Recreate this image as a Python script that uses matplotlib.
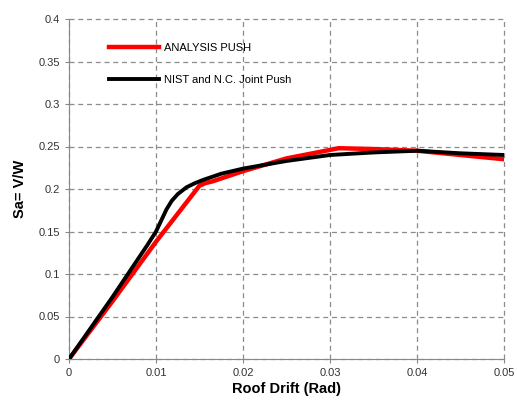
import matplotlib.pyplot as plt

plt.rcParams["font.family"] = ["Liberation Sans", "DejaVu Sans"]

# pushover curves
analysis_drift = [0.0, 0.005, 0.010, 0.0125, 0.015, 0.0157, 0.0165, 0.020, 0.025, 0.031, 0.035, 0.040, 0.045, 0.050]
analysis_sa = [0.0, 0.068, 0.138, 0.171, 0.204, 0.207, 0.209, 0.221, 0.236, 0.248, 0.247, 0.245, 0.240, 0.235]

nist_drift = [0.0, 0.005, 0.009, 0.010, 0.0106, 0.0112, 0.0118, 0.0125, 0.0135, 0.0145, 0.0155, 0.0175, 0.020,
              0.025, 0.030, 0.035, 0.040, 0.045, 0.050]
nist_sa = [0.0, 0.073, 0.134, 0.150, 0.163, 0.176, 0.186, 0.194, 0.202, 0.207, 0.211, 0.218, 0.224,
           0.233, 0.240, 0.243, 0.245, 0.242, 0.240]

x_ticks = [0, 0.01, 0.02, 0.03, 0.04, 0.05]
x_tick_labels = ["0", "0.01", "0.02", "0.03", "0.04", "0.05"]
y_ticks = [0, 0.05, 0.1, 0.15, 0.2, 0.25, 0.3, 0.35, 0.4]
y_tick_labels = ["0", "0.05", "0.1", "0.15", "0.2", "0.25", "0.3", "0.35", "0.4"]

fig = plt.figure(figsize=(5.17, 4.0), dpi=100)
ax = fig.add_axes([0.1335, 0.1025, 0.8415, 0.85])

ax.plot(analysis_drift, analysis_sa, color="#ff0000", lw=3.2, label="ANALYSIS PUSH", zorder=3,
        solid_joinstyle="round")
ax.plot(nist_drift, nist_sa, color="#000000", lw=2.8, label="NIST and N.C. Joint Push", zorder=4,
        solid_joinstyle="round")

ax.set_xlim(0, 0.05)
ax.set_ylim(0, 0.4)
ax.set_xticks(x_ticks, x_tick_labels)
ax.set_yticks(y_ticks, y_tick_labels)
ax.tick_params(labelsize=8, colors="#333333", length=3, color="#888888")
for side in ("top", "right"):
    ax.spines[side].set_visible(False)
for side in ("left", "bottom"):
    ax.spines[side].set_color("#888888")
ax.grid(True, linestyle=(0, (4, 3)), color="#8c8c8c", lw=0.9)
for gl in ax.get_xgridlines() + ax.get_ygridlines():
    gl.set_clip_on(False)

ax.set_xlabel("Roof Drift (Rad)", fontsize=10.5, fontweight="bold", labelpad=3)
ax.set_ylabel("Sa= V/W", fontsize=10.5, fontweight="bold", labelpad=8)

leg = ax.legend(loc="upper left", bbox_to_anchor=(0.07, 0.96), frameon=False,
                fontsize=8, handlelength=4.5, labelspacing=2.0, handletextpad=0.45)

fig.savefig("out.png", dpi=100)
